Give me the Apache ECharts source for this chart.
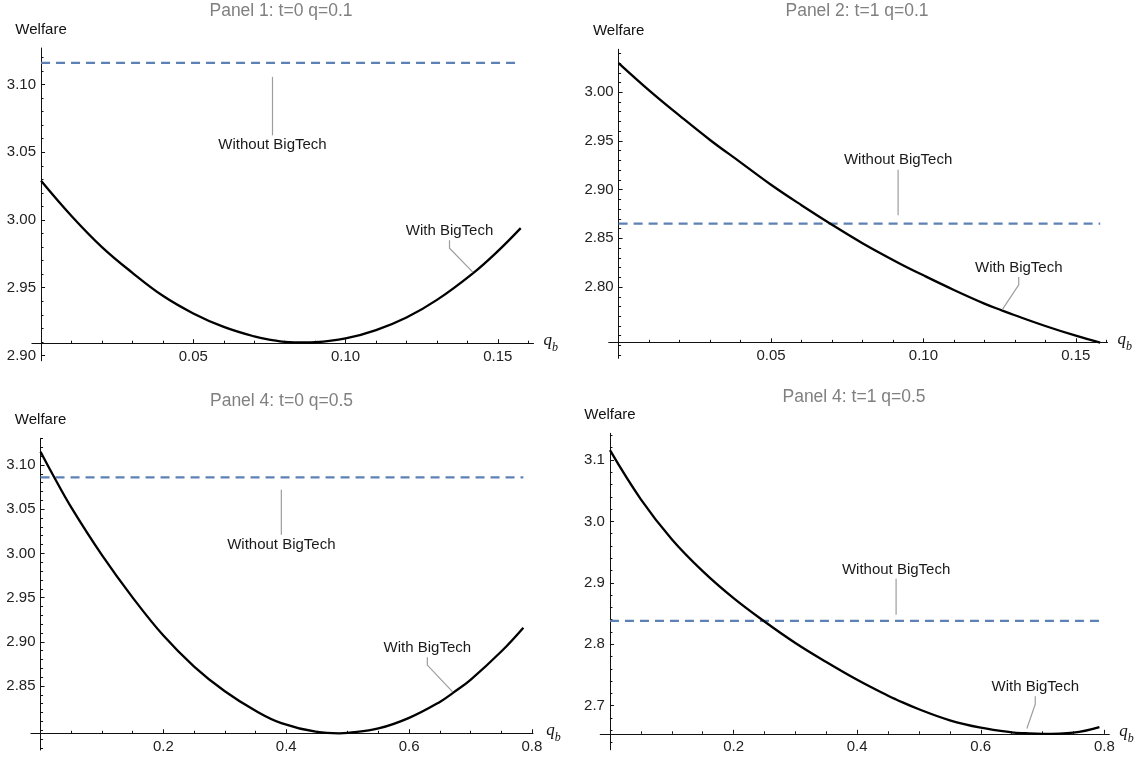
<!DOCTYPE html>
<html>
<head>
<meta charset="utf-8">
<title>Welfare with and without BigTech</title>
<script src="https://cdn.jsdelivr.net/npm/echarts@6/dist/echarts.min.js"></script>
<style>
  html, body { margin: 0; padding: 0; background: #ffffff; }
  #chart { width: 1148px; height: 760px; }
</style>
</head>
<body>
<div id="chart"></div>
<script>
// ---------- data ----------
// Panel 1: t=0, q=0.1
const qb1 = [0, 0.01, 0.02, 0.03, 0.04, 0.05, 0.06, 0.07, 0.076, 0.08, 0.0865, 0.09, 0.10, 0.11, 0.12, 0.13, 0.142, 0.15, 0.1575];
const welfare1 = [3.029, 3.003, 2.980, 2.961, 2.944, 2.931, 2.921, 2.914, 2.9113, 2.910, 2.9095, 2.9097, 2.9125, 2.9187, 2.928, 2.941, 2.961, 2.977, 2.994];
const noBigTech1 = 3.116;

// Panel 2: t=1, q=0.1
const qb2 = [0, 0.01, 0.02, 0.03, 0.04, 0.05, 0.06, 0.07, 0.08, 0.0917, 0.10, 0.11, 0.12, 0.1257, 0.13, 0.14, 0.15, 0.158];
const welfare2 = [3.030, 3.002, 2.976, 2.951, 2.928, 2.905, 2.884, 2.864, 2.845, 2.825, 2.812, 2.797, 2.783, 2.776, 2.771, 2.760, 2.750, 2.743];
const noBigTech2 = 2.865;

// Panel 3: t=0, q=0.5
const qb3 = [0, 0.02, 0.05, 0.1, 0.15, 0.2, 0.25, 0.3, 0.35, 0.392, 0.45, 0.486, 0.5, 0.55, 0.6, 0.65, 0.672, 0.7, 0.75, 0.786];
const welfare3 = [3.115, 3.089, 3.052, 2.998, 2.950, 2.907, 2.872, 2.844, 2.822, 2.808, 2.798, 2.7965, 2.797, 2.802, 2.814, 2.832, 2.8425, 2.857, 2.889, 2.916];
const noBigTech3 = 3.086;

// Panel 4: t=1, q=0.5
const qb4 = [0, 0.05, 0.1, 0.15, 0.2, 0.25, 0.3, 0.35, 0.4, 0.45, 0.463, 0.5, 0.55, 0.6, 0.65, 0.672, 0.7, 0.75, 0.792];
const welfare4 = [3.116, 3.036, 2.971, 2.919, 2.875, 2.837, 2.802, 2.771, 2.742, 2.716, 2.710, 2.694, 2.676, 2.664, 2.6565, 2.655, 2.654, 2.656, 2.665];
const noBigTech4 = 2.838;

// ---------- text ----------
const panelTitles = ['Panel 1: t=0 q=0.1', 'Panel 2: t=1 q=0.1', 'Panel 4: t=0 q=0.5', 'Panel 4: t=1 q=0.5'];
const xTickLabelsA = ['0.05', '0.10', '0.15'];
const xTickLabelsB = ['0.2', '0.4', '0.6', '0.8'];
const yTickLabels1 = ['2.90', '2.95', '3.00', '3.05', '3.10'];
const yTickLabels2 = ['2.80', '2.85', '2.90', '2.95', '3.00'];
const yTickLabels3 = ['2.85', '2.90', '2.95', '3.00', '3.05', '3.10'];
const yTickLabels4 = ['2.7', '2.8', '2.9', '3.0', '3.1'];
const yAxisName = 'Welfare';
const withLabel = 'With BigTech';
const withoutLabel = 'Without BigTech';

// ---------- styles ----------
const FONT = '"Liberation Sans", Arial, Helvetica, sans-serif';
const AXIS_COLOR = '#111111';
const TICK_TEXT = '#222222';
const CURVE_COLOR = '#000000';
const FLAT_COLOR = '#5E81B5';
const GUIDE_COLOR = '#9d9d9d';

// Layout of each panel: plot box, axis extents, where the horizontal axis crosses,
// tick spacing and callout placement (offsets in pixels from the anchor point).
const panels = [
  {
    title: panelTitles[0], titleAt: [281, 11.5],
    qb: qb1, welfare: welfare1, flat: noBigTech1,
    xLabels: xTickLabelsA, yLabels: yTickLabels1,
    box: { left: 31.9, top: 48.0, width: 501.6, height: 312.8 },
    xRange: [-0.003, 0.1617], yRange: [2.896, 3.127], yCross: 2.909,
    xMinorStep: 0.01, yMinorStep: 0.01,
    withCallout: { at: 0.142, dx: -24, dy: -42, gap: 1, leg: 8 },
    withoutCallout: { at: 0.076, dx: 0, dy: 82, gap: 14, leg: 4 }
  },
  {
    title: panelTitles[1], titleAt: [857, 11.5],
    qb: qb2, welfare: welfare2, flat: noBigTech2,
    xLabels: xTickLabelsA, yLabels: yTickLabels2,
    box: { left: 608.7, top: 49.3, width: 498.8, height: 309.0 },
    xRange: [-0.00325, 0.1604], yRange: [2.7268, 3.0441], yCross: 2.7432,
    xMinorStep: 0.01, yMinorStep: 0.01,
    withCallout: { at: 0.1257, dx: 17, dy: -43, gap: 1, leg: 8 },
    withoutCallout: { at: 0.0917, dx: 0, dy: -63.5, gap: 8.5, leg: 4 }
  },
  {
    title: panelTitles[2], titleAt: [281.5, 400.7],
    qb: qb3, welfare: welfare3, flat: noBigTech3,
    xLabels: xTickLabelsB, yLabels: yTickLabels3,
    box: { left: 30.9, top: 438.3, width: 502.1, height: 311.7 },
    xRange: [-0.0157, 0.8017], yRange: [2.7776, 3.1302], yCross: 2.7965,
    xMinorStep: 0.05, yMinorStep: 0.01,
    withCallout: { at: 0.672, dx: -26, dy: -45, gap: 1, leg: 8 },
    withoutCallout: { at: 0.392, dx: 0, dy: 67, gap: 12.5, leg: 4 }
  },
  {
    title: panelTitles[3], titleAt: [854, 396.7],
    qb: qb4, welfare: welfare4, flat: noBigTech4,
    xLabels: xTickLabelsB, yLabels: yTickLabels4,
    box: { left: 600.2, top: 433.3, width: 509.1, height: 316.5 },
    xRange: [-0.0158, 0.808], yRange: [2.628, 3.1435], yCross: 2.654,
    xMinorStep: 0.05, yMinorStep: 0.02,
    withCallout: { at: 0.672, dx: 10, dy: -46.5, gap: 5, leg: 8 },
    withoutCallout: { at: 0.463, dx: 0, dy: -51.5, gap: 6, leg: 4 }
  }
];

// ---------- helpers ----------
function sameValue(a, b) { return Math.abs(a - b) < 1e-9; }

function labelFor(labels, v) {
  const hit = labels.find(s => sameValue(Number(s), v));
  return hit === undefined ? '' : hit;
}

// Minor tick positions: every step inside the range, skipping labelled ticks and the origin.
function minorTicks(range, step, majors) {
  const out = [];
  const start = Math.ceil(range[0] / step - 1e-9);
  for (let k = start; k * step <= range[1] + 1e-9; k++) {
    const v = +(k * step).toFixed(6);
    if (sameValue(v, 0)) continue;
    if (majors.some(m => sameValue(m, v))) continue;
    out.push(v);
  }
  return out;
}

function calloutLabel(text) {
  return {
    show: true,
    formatter: text,
    position: 'inside',
    color: '#1a1a1a',
    fontSize: 15,
    fontFamily: FONT,
    padding: [2, 2, 2, 2],
    backgroundColor: 'rgba(255,255,255,0)'
  };
}

function calloutGuide(c) {
  return {
    show: true,
    length2: c.leg,
    smooth: false,
    lineStyle: { color: GUIDE_COLOR, width: 1.2 }
  };
}

function seriesData(qb, values, text, c) {
  const idx = qb.findIndex(x => sameValue(x, c.at));
  return qb.map((x, k) => {
    if (k !== idx) return { value: [x, values[k]] };
    return {
      value: [x, values[k]],
      symbolSize: c.gap * 2,
      label: calloutLabel(text),
      labelLine: calloutGuide(c)
    };
  });
}

function calloutLayout(c) {
  return function (params) {
    const r = params.rect;
    return {
      x: r.x + r.width / 2 + c.dx,
      y: r.y + r.height / 2 + c.dy,
      align: 'center',
      verticalAlign: 'middle'
    };
  };
}

// ---------- option ----------
const option = {
  animation: false,
  backgroundColor: '#ffffff',
  textStyle: { fontFamily: FONT },
  title: [],
  grid: [],
  xAxis: [],
  yAxis: [],
  series: []
};

panels.forEach((p, i) => {
  const box = p.box;
  option.title.push({
    text: p.title,
    left: p.titleAt[0],
    top: p.titleAt[1],
    textAlign: 'center',
    textVerticalAlign: 'middle',
    padding: 0,
    textStyle: { fontSize: 17.5, fontWeight: 'normal', color: '#808080', fontFamily: FONT }
  });

  option.grid.push({
    left: box.left, top: box.top, width: box.width, height: box.height,
    containLabel: false, outerBoundsMode: 'none'
  });

  // the horizontal axis sits at yCross, the vertical axis at q_b = 0
  const xOffset = -(p.yCross - p.yRange[0]) / (p.yRange[1] - p.yRange[0]) * box.height;
  const yOffset = -(0 - p.xRange[0]) / (p.xRange[1] - p.xRange[0]) * box.width;
  const xMajor = p.xLabels.map(Number);
  const yMajor = p.yLabels.map(Number);

  option.xAxis.push({
    type: 'value', gridIndex: i, min: p.xRange[0], max: p.xRange[1],
    position: 'bottom', offset: xOffset,
    axisLine: { show: true, onZero: false, lineStyle: { color: AXIS_COLOR, width: 1 } },
    axisTick: { show: true, inside: true, length: 4, customValues: xMajor, lineStyle: { color: AXIS_COLOR, width: 1 } },
    axisLabel: { show: true, customValues: xMajor, margin: 6, fontSize: 15, color: TICK_TEXT, fontFamily: FONT,
                 formatter: v => labelFor(p.xLabels, v) },
    splitLine: { show: false },
    name: '{q|q}{b|b}', nameLocation: 'end', nameGap: 10,
    nameTextStyle: {
      rich: {
        q: { fontFamily: '"Liberation Serif", "Times New Roman", serif', fontStyle: 'italic', fontSize: 17, color: '#111', lineHeight: 22, verticalAlign: 'top' },
        b: { fontFamily: '"Liberation Serif", "Times New Roman", serif', fontStyle: 'italic', fontSize: 12, color: '#111', lineHeight: 22, verticalAlign: 'bottom' }
      }
    }
  });
  option.xAxis.push({
    type: 'value', gridIndex: i, min: p.xRange[0], max: p.xRange[1],
    position: 'bottom', offset: xOffset,
    axisLine: { show: false, onZero: false },
    axisTick: { show: true, inside: true, length: 2.5, customValues: minorTicks(p.xRange, p.xMinorStep, xMajor),
                lineStyle: { color: AXIS_COLOR, width: 1 } },
    axisLabel: { show: false },
    splitLine: { show: false }
  });

  option.yAxis.push({
    type: 'value', gridIndex: i, min: p.yRange[0], max: p.yRange[1],
    position: 'left', offset: yOffset,
    axisLine: { show: true, onZero: false, lineStyle: { color: AXIS_COLOR, width: 1 } },
    axisTick: { show: true, inside: true, length: 4, customValues: yMajor, lineStyle: { color: AXIS_COLOR, width: 1 } },
    axisLabel: { show: true, customValues: yMajor, margin: 5, fontSize: 15, color: TICK_TEXT, fontFamily: FONT,
                 formatter: v => labelFor(p.yLabels, v) },
    splitLine: { show: false },
    name: yAxisName, nameLocation: 'end', nameGap: 11,
    nameTextStyle: { fontSize: 15, color: '#111', fontFamily: FONT, align: 'center' }
  });
  option.yAxis.push({
    type: 'value', gridIndex: i, min: p.yRange[0], max: p.yRange[1],
    position: 'left', offset: yOffset,
    axisLine: { show: false, onZero: false },
    axisTick: { show: true, inside: true, length: 2.5, customValues: minorTicks(p.yRange, p.yMinorStep, yMajor),
                lineStyle: { color: AXIS_COLOR, width: 1 } },
    axisLabel: { show: false },
    splitLine: { show: false }
  });

  const common = {
    type: 'line',
    xAxisIndex: 2 * i,
    yAxisIndex: 2 * i,
    symbol: 'circle',
    symbolSize: 0,
    showSymbol: true,
    showAllSymbol: true,
    itemStyle: { color: 'rgba(0,0,0,0)', borderWidth: 0 },
    emphasis: { disabled: true },
    silent: true,
    clip: false
  };

  // welfare without BigTech: a flat level across the same q_b range
  option.series.push(Object.assign({}, common, {
    name: withoutLabel,
    z: 3,
    data: seriesData(p.qb, p.qb.map(() => p.flat), withoutLabel, p.withoutCallout),
    lineStyle: { color: FLAT_COLOR, width: 2.2, type: [9, 6] },
    labelLayout: calloutLayout(p.withoutCallout)
  }));

  // welfare with BigTech
  option.series.push(Object.assign({}, common, {
    name: withLabel,
    z: 4,
    smooth: 0.4,
    data: seriesData(p.qb, p.welfare, withLabel, p.withCallout),
    lineStyle: { color: CURVE_COLOR, width: 2.3, join: 'round' },
    labelLayout: calloutLayout(p.withCallout)
  }));
});

const chart = echarts.init(document.getElementById('chart'), null, { renderer: 'canvas' });
chart.setOption(option);
</script>
</body>
</html>
